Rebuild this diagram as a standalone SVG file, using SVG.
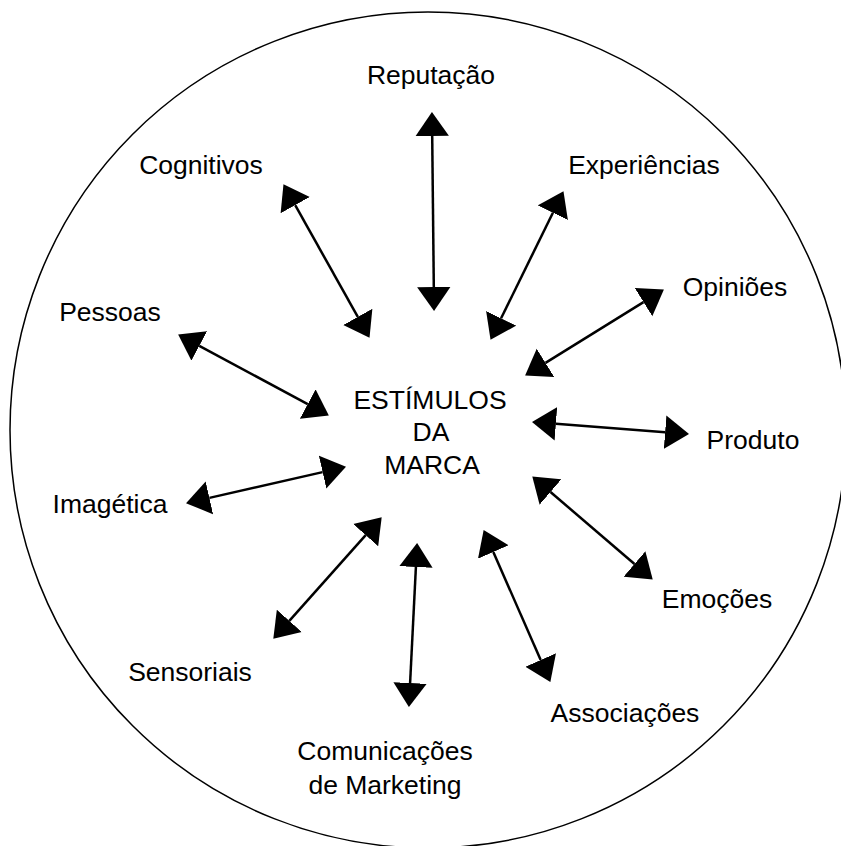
<svg xmlns="http://www.w3.org/2000/svg" width="841" height="846" viewBox="0 0 841 846">
  <style>
    .lbl { font-family: "Liberation Sans", Arial, sans-serif; font-size: 26.5px; fill: #000; text-anchor: middle; }
    .con { stroke: #000; stroke-width: 2.5; fill: none; marker-start: url(#head); marker-end: url(#head); }
  </style>
  <defs>
    <marker id="head" markerUnits="userSpaceOnUse" markerWidth="24" markerHeight="34" viewBox="0 0 23 32" refX="0" refY="16" orient="auto-start-reverse">
      <path d="M0,0 L23,16 L0,32 Z" fill="#000"/>
    </marker>
  </defs>
  <rect width="841" height="846" fill="#fff"/>
  <circle cx="428" cy="430" r="418" fill="none" stroke="#000" stroke-width="1.5"/>

  <g id="centro">
    <text class="lbl" x="430" y="409">ESTÍMULOS</text>
    <text class="lbl" x="431" y="441">DA</text>
    <text class="lbl" x="432" y="474">MARCA</text>
  </g>

  <g id="reputacao"><text class="lbl" x="431" y="84">Reputação</text></g>
  <g id="cognitivos"><text class="lbl" x="201" y="174">Cognitivos</text></g>
  <g id="experiencias"><text class="lbl" x="644" y="174">Experiências</text></g>
  <g id="opinioes"><text class="lbl" x="735" y="296">Opiniões</text></g>
  <g id="pessoas"><text class="lbl" x="110" y="321">Pessoas</text></g>
  <g id="produto"><text class="lbl" x="753" y="449">Produto</text></g>
  <g id="imagetica"><text class="lbl" x="110" y="513">Imagética</text></g>
  <g id="emocoes"><text class="lbl" x="717" y="608">Emoções</text></g>
  <g id="sensoriais"><text class="lbl" x="190" y="681">Sensoriais</text></g>
  <g id="associacoes"><text class="lbl" x="625" y="722">Associações</text></g>
  <g id="comunicacoes">
    <text class="lbl" x="385" y="760">Comunicações</text>
    <text class="lbl" x="385" y="794">de Marketing</text>
  </g>

  <g id="connectors">
    <line class="con" x1="432.2" y1="136" x2="433.8" y2="287"/>
    <line class="con" x1="295.2" y1="205.1" x2="357.8" y2="316.9"/>
    <line class="con" x1="552.9" y1="212.7" x2="501.1" y2="318.3"/>
    <line class="con" x1="643.5" y1="302.1" x2="545.5" y2="362.9"/>
    <line class="con" x1="199.3" y1="345.9" x2="307.7" y2="404.1"/>
    <line class="con" x1="555.9" y1="423.8" x2="665.1" y2="432.2"/>
    <line class="con" x1="209.4" y1="497.9" x2="322.6" y2="472.1"/>
    <line class="con" x1="550.5" y1="492" x2="634.5" y2="564"/>
    <line class="con" x1="365.7" y1="535.2" x2="289.3" y2="620.8"/>
    <line class="con" x1="415.9" y1="567" x2="410.1" y2="683"/>
    <line class="con" x1="493.3" y1="552" x2="540.7" y2="660"/>
  </g>
</svg>
